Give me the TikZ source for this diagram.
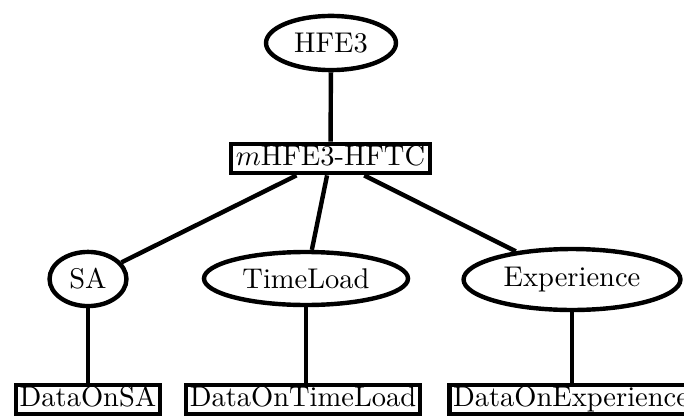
\documentclass[tikz,border=0pt]{standalone}
\usetikzlibrary{shapes.geometric}
\begin{document}
\begin{tikzpicture}[x=0.3509pt,y=-0.3509pt,
  oval/.style={ellipse,draw,line width=1.55pt,inner sep=0pt},
  rbox/.style={rectangle,draw,line width=1.55pt,inner xsep=1.3pt,inner ysep=0.5pt,
    text height=7pt,text depth=2pt,minimum height=10.3pt},
  link/.style={line width=1.55pt}]
\clip (0,0) rectangle (684,417);
\useasboundingbox (0,0) rectangle (684,417);
\node[oval,minimum width=45.6pt,minimum height=19pt] (hfe) at (331,43) {HFE3};
\node[rbox,inner xsep=1.8pt] (mid) at (330.5,158.5) {$m$HFE3-HFTC};
\node[oval,minimum width=27pt,minimum height=19pt] (sa) at (88,279) {SA};
\node[oval,minimum width=71.6pt,minimum height=18.6pt] (tl) at (306,278.5) {TimeLoad};
\node[oval,minimum width=76.1pt,minimum height=21.4pt] (ex) at (572,279.5) {Experience};
\node[rbox] (dsa) at (88,399.5) {DataOnSA};
\node[rbox] (dtl) at (303,399.5) {DataOnTimeLoad};
\node[rbox] (dex) at (571,399.5) {DataOnExperience};
\draw[link] (hfe) -- (mid);
\draw[link] (mid) -- (sa);
\draw[link] (mid) -- (tl);
\draw[link] (mid) -- (ex);
\draw[link] (sa.south) -- (sa.south |- dsa.north);
\draw[link] (tl.south) -- (tl.south |- dtl.north);
\draw[link] (ex.south) -- (ex.south |- dex.north);
\end{tikzpicture}
\end{document}
